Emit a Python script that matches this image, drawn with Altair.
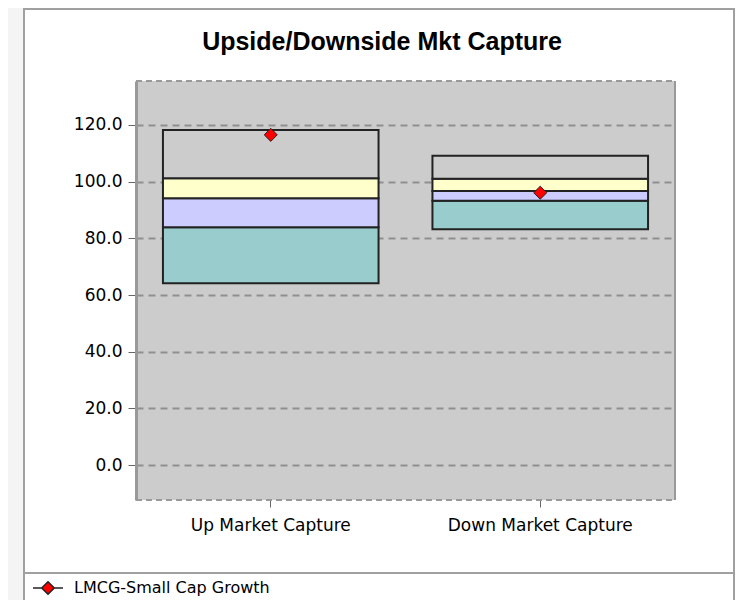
import altair as alt
import pandas as pd

# ---- data ----
categories = ["Up Market Capture", "Down Market Capture"]
segments = ["5th-25th", "25th-Median", "Median-75th", "75th-95th"]
p05 = [64.2, 83.2]
p25 = [83.9, 93.3]
p50 = [94.1, 96.7]
p75 = [101.2, 101.0]
p95 = [118.2, 109.1]
fund_name = "LMCG-Small Cap Growth"
fund_values = [116.5, 96.1]
y_ticks = [0, 20, 40, 60, 80, 100, 120]
y_domain = [-12.3, 135.5]

seg_colors = ["#99cccc", "#ccccff", "#ffffcc", "#cccccc"]

rows = []
for i, c in enumerate(categories):
    bounds = [p05[i], p25[i], p50[i], p75[i], p95[i]]
    for j, s in enumerate(segments):
        rows.append({"category": c, "segment": s, "lo": bounds[j], "hi": bounds[j + 1]})
seg_df = pd.DataFrame(rows)
fund_df = pd.DataFrame({"category": categories, "value": fund_values, "series": [fund_name] * 2})

W, H = 539, 419
PL, PT = 128, 73
TW, TH = 727, 592

xscale = alt.Scale(domain=categories, paddingInner=0.2, paddingOuter=0.1)
yscale = alt.Scale(domain=y_domain, nice=False, zero=False)

one = pd.DataFrame({"a": [0]})

# decorations (page frame)
strip = alt.Chart(one).mark_rect(color="#f4f4f4").encode(
    x=alt.value(-PL), x2=alt.value(-PL + 15), y=alt.value(-PT), y2=alt.value(TH - PT))
frame_col = "#a0a0a0"
left_border = alt.Chart(one).mark_rule(color=frame_col, strokeWidth=2).encode(
    x=alt.value(-PL + 16), y=alt.value(-PT), y2=alt.value(TH - PT))
right_border = alt.Chart(one).mark_rule(color=frame_col, strokeWidth=2).encode(
    x=alt.value(TW - PL - 1), y=alt.value(-PT), y2=alt.value(TH - PT))
top_border = alt.Chart(one).mark_rule(color=frame_col, strokeWidth=2).encode(
    x=alt.value(-PL + 15), x2=alt.value(TW - PL), y=alt.value(-PT + 1))
sep = alt.Chart(one).mark_rule(color=frame_col, strokeWidth=2).encode(
    x=alt.value(-PL + 15), x2=alt.value(TW - PL), y=alt.value(565 - PT))

# plot frame edges
top_edge = alt.Chart(one).mark_rule(color="#999999", strokeWidth=2, strokeDash=[6, 4]).encode(
    x=alt.value(0), x2=alt.value(W), y=alt.value(0))
bottom_edge = alt.Chart(one).mark_rule(color="#999999", strokeWidth=2, strokeDash=[6, 4]).encode(
    x=alt.value(0), x2=alt.value(W), y=alt.value(H))
right_edge = alt.Chart(one).mark_rule(color="#999999", strokeWidth=2).encode(
    x=alt.value(W), y=alt.value(0), y2=alt.value(H))

title = alt.Chart(one).mark_text(
    text="Upside/Downside Mkt Capture", font="Liberation Sans", fontSize=25,
    fontWeight="bold", color="#000000", baseline="middle", align="center"
).encode(x=alt.value(382 - 136), y=alt.value(42 - 81))

bars = alt.Chart(seg_df).mark_bar(stroke="#222222", strokeWidth=2).encode(
    x=alt.X("category:N", scale=xscale, sort=categories,
            axis=alt.Axis(title=None, labelAngle=0, domain=False, grid=False,
                          tickColor="#666666", tickSize=7, labelPadding=10, labelLimit=0,
                          labelFontSize=17, labelFont="DejaVu Sans", labelColor="#000000")),
    y=alt.Y("lo:Q", scale=yscale,
            axis=alt.Axis(title=None, values=y_ticks, format=".1f", grid=True,
                          gridColor="#8f8f8f", gridDash=[7, 5], gridWidth=1.8,
                          domainColor="#999999", domainWidth=3, tickColor="#666666",
                          tickSize=8, labelPadding=6, labelFontSize=17,
                          labelFont="DejaVu Sans", labelColor="#000000")),
    y2="hi:Q",
    fill=alt.Fill("segment:N", scale=alt.Scale(domain=segments, range=seg_colors), legend=None),
)

diamond_path = "M-1,0L-0.42,0M0.42,0L1,0M-0.42,0L0,-0.42L0.42,0L0,0.42Z"

points = alt.Chart(fund_df).mark_point(
    shape="diamond", filled=True, size=170, stroke="#222222", strokeWidth=1, opacity=1
).encode(
    x=alt.X("category:N", scale=xscale, sort=categories),
    y=alt.Y("value:Q", scale=yscale),
    color=alt.Color("series:N", scale=alt.Scale(range=["#ff0000"]),
                    legend=alt.Legend(title=None, orient="none", legendX=-104, legendY=491,
                                      symbolType=diamond_path, symbolSize=900,
                                      symbolStrokeColor="#222222", symbolStrokeWidth=1.5,
                                      symbolOpacity=1, labelLimit=0,
                                      labelFontSize=16, labelFont="DejaVu Sans",
                                      labelColor="#000000", labelOffset=10, padding=0)),
)

chart = alt.layer(
    strip, left_border, right_border, top_border, sep,
    bars, points, top_edge, bottom_edge, right_edge, title
).properties(
    width=W, height=H,
    padding={"left": PL, "top": PT, "right": TW - PL - W, "bottom": TH - PT - H},
    autosize=alt.AutoSizeParams(type="none"),
    background="#ffffff",
).configure_view(fill="#cccccc", stroke=None)

chart.save("out.html", embed_options={"renderer": "svg", "actions": False})
